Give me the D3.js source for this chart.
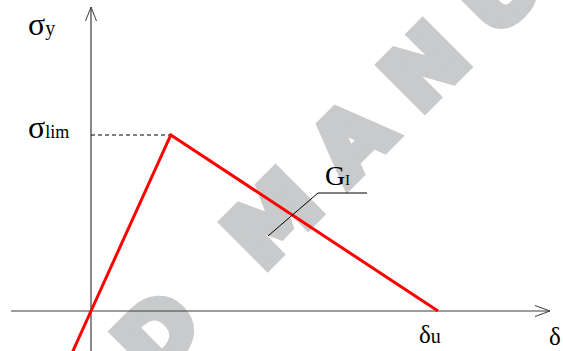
<!DOCTYPE html>
<html>
<head>
<meta charset="utf-8">
<script src="https://cdn.jsdelivr.net/npm/d3@7"></script>
<style>
  html, body { margin: 0; padding: 0; background: #fff; }
  svg { display: block; }
</style>
</head>
<body>
<svg id="chart"></svg>
<script>
  /* data: stress (sigma, relative to sigma_lim) vs opening (delta, relative to delta_u) */
  var deltaValues = [-0.055, 0, 0.23, 1];
  var sigmaValues = [-0.24, 0, 1, 0];
  var peakDelta = 0.23;   // where sigma_lim is reached
  var ultDelta = 1;       // delta_u
  var limSigma = 1;       // sigma_lim
  var watermarkText = 'CONTROLLED MANUAL';

  var width = 563;
  var height = 351;

  var svg = d3.select('#chart')
    .attr('width', width)
    .attr('height', height);

  // scales: origin at (91, 311)
  var x = d3.scaleLinear().domain([0, 1]).range([91, 438]);
  var y = d3.scaleLinear().domain([0, 1]).range([311, 135]);

  /* watermark, drawn first so it sits behind everything */
  var wm = svg.append('g');
  var wmText = wm.append('text')
    .attr('x', 0)
    .attr('y', 0)
    .attr('font-family', 'DejaVu Sans, sans-serif')
    .attr('font-weight', 'bold')
    .attr('font-size', 86)
    .attr('letter-spacing', 30)
    .attr('word-spacing', -14)
    .attr('fill', '#c9cacb')
    .attr('stroke', '#c9cacb')
    .attr('stroke-width', 9)
    .attr('stroke-linejoin', 'miter')
    .text(watermarkText);
  // line up the "M" of MANUAL
  var mIndex = watermarkText.indexOf('MANUAL');
  var mPos = wmText.node().getStartPositionOfChar(mIndex);
  wmText.attr('x', -mPos.x);
  wm.attr('transform', 'translate(262,272) rotate(-45) scale(1.05,1)');

  var line = d3.line()
    .x(function (d) { return x(d[0]); })
    .y(function (d) { return y(d[1]); });

  /* axes with open arrow heads */
  var axisColor = '#3c3c3c';
  var xAxisLeft = x.invert(11), xAxisRight = x.invert(550);
  var yAxisTop = y.invert(7), yAxisBottom = y.invert(351);

  svg.append('path')
    .attr('d', line([[xAxisLeft, 0], [xAxisRight, 0]]))
    .attr('stroke', axisColor).attr('stroke-width', 1.2).attr('fill', 'none');
  svg.append('path')
    .attr('d', 'M' + (x(xAxisRight) - 15) + ',' + (y(0) - 5.5) + 'L' + x(xAxisRight) + ',' + y(0) +
                'L' + (x(xAxisRight) - 15) + ',' + (y(0) + 5.5))
    .attr('stroke', axisColor).attr('stroke-width', 1).attr('fill', 'none');

  svg.append('path')
    .attr('d', line([[0, yAxisBottom], [0, yAxisTop]]))
    .attr('stroke', axisColor).attr('stroke-width', 1.2).attr('fill', 'none');
  svg.append('path')
    .attr('d', 'M' + (x(0) - 5.5) + ',' + (y(yAxisTop) + 14) + 'L' + x(0) + ',' + y(yAxisTop) +
                'L' + (x(0) + 5.5) + ',' + (y(yAxisTop) + 14))
    .attr('stroke', axisColor).attr('stroke-width', 1).attr('fill', 'none');

  /* dashed guide to sigma_lim */
  svg.append('path')
    .attr('d', line([[0, limSigma], [peakDelta, limSigma]]))
    .attr('stroke', '#000').attr('stroke-width', 1)
    .attr('stroke-dasharray', '4,3').attr('fill', 'none');

  /* the softening law */
  var pts = deltaValues.map(function (d, i) { return [d, sigmaValues[i]]; });
  svg.append('path')
    .attr('d', line(pts))
    .attr('stroke', '#ff0000')
    .attr('stroke-width', 3)
    .attr('stroke-linejoin', 'miter')
    .attr('fill', 'none');

  /* leader for G_I */
  svg.append('path')
    .attr('d', 'M268,236L318,193L367,193')
    .attr('stroke', '#000').attr('stroke-width', 1).attr('fill', 'none');

  /* labels */
  function label(px, py, main, sub, mainSize, subSize) {
    var t = svg.append('text')
      .attr('x', px)
      .attr('y', py)
      .attr('font-family', 'Liberation Serif, Times New Roman, serif')
      .attr('fill', '#000');
    t.append('tspan').attr('font-size', mainSize).text(main);
    if (sub) t.append('tspan').attr('font-size', subSize).text(sub);
    return t;
  }

  label(28, 35, 'σ', 'y', 32, 20);
  label(28, y(limSigma) + 3, 'σ', 'lim', 32, 18);
  label(325, 185, 'G', 'I', 28, 14);
  label(x(ultDelta) - 19, 343, 'δ', 'u', 25, 20);
  label(549, 345, 'δ', null, 25);
</script>
</body>
</html>
